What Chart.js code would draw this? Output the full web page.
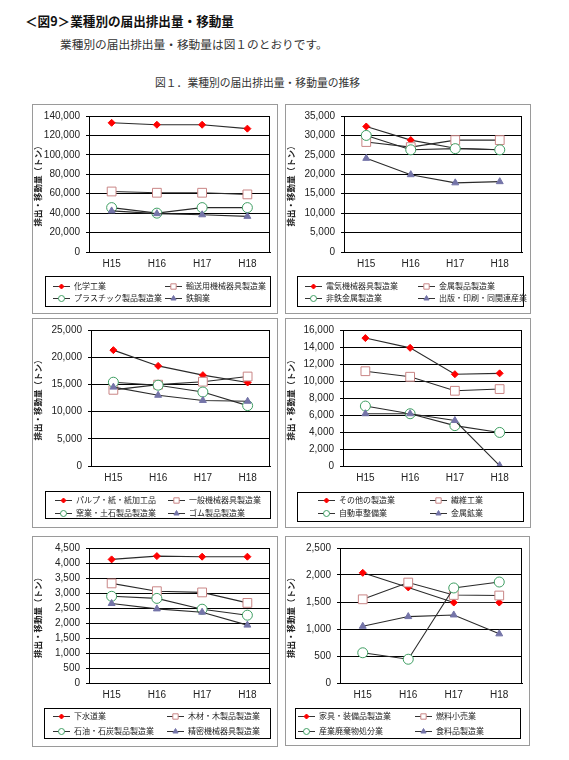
<!DOCTYPE html>
<html>
<head>
<meta charset="utf-8">
<script src="https://cdn.jsdelivr.net/npm/chart.js@4.4.1/dist/chart.umd.min.js"></script>
<style>
  body { margin: 0; background: #fff; width: 569px; height: 760px; position: relative; overflow: hidden;
         font-family: "Noto Sans CJK JP", sans-serif; }
  .t { position: absolute; white-space: nowrap; }
  canvas { position: absolute; }
</style>
</head>
<body>
<div class="t" style="left:25px; top:13px; font-size:12.6px; line-height:16px; font-weight:700; color:#111;">＜図9＞業種別の届出排出量・移動量</div>
<div class="t" style="left:60px; top:36px; font-size:11.7px; line-height:15px; color:#333;">業種別の届出排出量・移動量は図１のとおりです。</div>
<div class="t" style="left:155px; top:75px; font-size:10.8px; line-height:14px; color:#333;">図１．業種別の届出排出量・移動量の推移</div>

<canvas id="c1" width="246" height="210" style="left:32px; top:104px;"></canvas>
<canvas id="c2" width="246" height="210" style="left:285px; top:104px;"></canvas>
<canvas id="c3" width="246" height="210" style="left:32px; top:318px;"></canvas>
<canvas id="c4" width="246" height="210" style="left:285px; top:318px;"></canvas>
<canvas id="c5" width="246" height="211" style="left:32px; top:536px;"></canvas>
<canvas id="c6" width="245" height="210" style="left:285px; top:536px;"></canvas>

<script>
// years on the x axis
var years = ["H15", "H16", "H17", "H18"];

// panel 1
var names1 = ["化学工業", "輸送用機械器具製造業", "プラスチック製品製造業", "鉄鋼業"];
var p1a = [133000, 131000, 131000, 127000];
var p1b = [62300, 61000, 61000, 59300];
var p1c = [45700, 40000, 45700, 45700];
var p1d = [42300, 39500, 38300, 36700];

// panel 2
var names2 = ["電気機械器具製造業", "金属製品製造業", "非鉄金属製造業", "出版・印刷・同関連産業"];
var p2a = [32300, 28800, 26700, 26300];
var p2b = [28300, 27000, 28800, 28800];
var p2c = [30000, 26300, 26600, 26300];
var p2d = [24100, 19900, 17800, 18100];

// panel 3
var names3 = ["パルプ・紙・紙加工品", "一般機械器具製造業", "窯業・土石製品製造業", "ゴム製品製造業"];
var p3a = [21300, 18400, 16700, 15350];
var p3b = [14000, 14950, 15500, 16450];
var p3c = [15400, 14850, 13600, 11100];
var p3d = [14500, 13000, 12050, 11900];

// panel 4
var names4 = ["その他の製造業", "繊維工業", "自動車整備業", "金属鉱業"];
var p4a = [15050, 13900, 10800, 10900];
var p4b = [11150, 10500, 8850, 9050];
var p4c = [7050, 6150, 4750, 3950];
var p4d = [6150, 6150, 5350, 50];

// panel 5
var names5 = ["下水道業", "木材・木製品製造業", "石油・石炭製品製造業", "精密機械器具製造業"];
var p5a = [4120, 4230, 4210, 4210];
var p5b = [3320, 3060, 3020, 2670];
var p5c = [2890, 2820, 2460, 2260];
var p5d = [2650, 2470, 2360, 1930];

// panel 6
var names6 = ["家具・装備品製造業", "燃料小売業", "産業廃棄物処分業", "食料品製造業"];
var p6a = [2040, 1770, 1490, 1490];
var p6b = [1550, 1860, 1630, 1620];
var p6c = [560, 440, 1760, 1870];
var p6d = [1050, 1230, 1260, 910];

// axis ranges
var yMax = [140000, 35000, 25000, 16000, 4500, 2500];
var yStep = [20000, 5000, 5000, 2000, 500, 500];

// marker look for the 4 series (same in every panel)
var markers = [
  { style: "rectRot", radius: 3.5, fill: "#ff0000", line: "#ff0000", lr: 2.5 },
  { style: "rect", radius: 6.2, fill: "#ffffff", line: "#c98585", lr: 3.8 },
  { style: "circle", radius: 5, fill: "#ffffff", line: "#3f9f63", lr: 3 },
  { style: "triangle", radius: 4, fill: "#7474a8", line: "#7474a8", lr: 3 }
];

// page geometry of each panel
var panels = [
  { id: "c1", x: 32, y: 104, names: names1, data: [p1a, p1b, p1c, p1d],
    plot: [89, 112, 270, 252], leg: [45, 276, 270, 306], cols: [53, 165], rows: [285.7, 298.3] },
  { id: "c2", x: 285, y: 104, names: names2, data: [p2a, p2b, p2c, p2d],
    plot: [344, 112, 522, 252], leg: [297, 276, 523, 306], cols: [305, 418], rows: [285.7, 298.3] },
  { id: "c3", x: 32, y: 318, names: names3, data: [p3a, p3b, p3c, p3d],
    plot: [91, 327, 270, 466], leg: [45, 491, 270, 518], cols: [55, 168], rows: [500, 512.7] },
  { id: "c4", x: 285, y: 318, names: names4, data: [p4a, p4b, p4c, p4d],
    plot: [343, 327, 522, 466], leg: [297, 492, 523, 521], cols: [318, 430], rows: [500, 513.3] },
  { id: "c5", x: 32, y: 536, names: names5, data: [p5a, p5b, p5c, p5d],
    plot: [89, 543, 270, 683], leg: [44, 708, 270, 738], cols: [53, 167], rows: [715.7, 731] },
  { id: "c6", x: 285, y: 536, names: names6, data: [p6a, p6b, p6c, p6d],
    plot: [340, 544, 522, 683], leg: [295, 708, 520, 738], cols: [298, 415], rows: [715.7, 731] }
];

// panel frame, plot box and the boxed 2x2 legend
var boxLegend = {
  id: "boxLegend",
  beforeDraw: function (chart) {
    var ctx = chart.ctx;
    ctx.save();
    ctx.fillStyle = "#fff";
    ctx.fillRect(0, 0, chart.width, chart.height);
    ctx.strokeStyle = "#9a9a9a";
    ctx.lineWidth = 1;
    ctx.strokeRect(0.5, 0.5, chart.width - 1, chart.height - 1);
    ctx.restore();
  },
  afterDraw: function (chart, args, opts) {
    var ctx = chart.ctx;
    var a = chart.chartArea;
    ctx.save();
    ctx.strokeStyle = "#000";
    ctx.lineWidth = 1;
    ctx.strokeRect(Math.round(a.left) + 0.5, Math.round(a.top) + 0.5,
      Math.round(a.right - a.left) - 1, Math.round(a.bottom - a.top));

    var b = opts.box;
    ctx.strokeRect(Math.round(b[0]) + 0.5, Math.round(b[1]) + 0.5,
      Math.round(b[2] - b[0]), Math.round(b[3] - b[1]));

    ctx.font = '8px "Noto Sans CJK JP"';
    ctx.textBaseline = "middle";
    chart.data.datasets.forEach(function (ds, i) {
      var x = opts.cols[i % 2];
      var y = opts.rows[Math.floor(i / 2)];
      var m = markers[i];
      ctx.strokeStyle = "#333";
      ctx.beginPath();
      ctx.moveTo(x, Math.round(y) + 0.5);
      ctx.lineTo(x + 17, Math.round(y) + 0.5);
      ctx.stroke();
      ctx.fillStyle = m.fill;
      ctx.strokeStyle = m.line;
      Chart.helpers.drawPoint(ctx, { pointStyle: m.style, radius: m.lr, borderWidth: 1, rotation: 0 },
        x + 8.5, Math.round(y) + 0.5);
      ctx.fillStyle = "#222";
      ctx.fillText(ds.label, x + 21, y);
    });
    ctx.restore();
  }
};

panels.forEach(function (p, k) {
  var cv = document.getElementById(p.id);
  var W = cv.width, H = cv.height;
  var datasets = p.data.map(function (vals, i) {
    return {
      label: p.names[i],
      data: vals,
      borderColor: "#2a2a2a",
      borderWidth: 1.1,
      tension: 0,
      pointStyle: markers[i].style,
      pointRadius: markers[i].radius,
      pointBackgroundColor: markers[i].fill,
      pointBorderColor: markers[i].line,
      pointBorderWidth: 1,
      order: 3 - i
    };
  });

  new Chart(cv, {
    type: "line",
    data: { labels: years, datasets: datasets },
    plugins: [boxLegend],
    options: {
      responsive: false,
      animation: false,
      layout: { padding: { left: 0, top: p.plot[1] - p.y, right: p.x + W - p.plot[2], bottom: 0 } },
      plugins: {
        legend: { display: false },
        tooltip: { enabled: false },
        boxLegend: {
          box: [p.leg[0] - p.x, p.leg[1] - p.y, p.leg[2] - p.x, p.leg[3] - p.y],
          cols: [p.cols[0] - p.x, p.cols[1] - p.x],
          rows: [p.rows[0] - p.y, p.rows[1] - p.y]
        }
      },
      scales: {
        x: {
          offset: true,
          grid: { display: false, drawTicks: false, tickLength: 0 },
          border: { display: true, color: "#000" },
          ticks: { color: "#222", padding: 6, font: { family: "Liberation Sans", size: 10 } },
          afterFit: function (s) { s.height = H - (p.plot[3] - p.y); }
        },
        y: {
          min: 0,
          max: yMax[k],
          grid: { color: "#000", tickLength: 3 },
          border: { display: true, color: "#000" },
          ticks: {
            stepSize: yStep[k],
            autoSkip: false,
            padding: 6,
            color: "#222",
            font: { family: "Liberation Sans", size: 10 },
            callback: function (v) { return v.toLocaleString("en-US"); }
          },
          title: {
            display: true,
            text: "排出・移動量（トン）",
            color: "#222",
            padding: { top: 1, bottom: 0 },
            font: { family: "Noto Sans CJK JP", size: 8.5, weight: "bold" }
          },
          afterFit: function (s) { s.width = p.plot[0] - p.x; }
        }
      }
    }
  });
});
</script>
</body>
</html>
